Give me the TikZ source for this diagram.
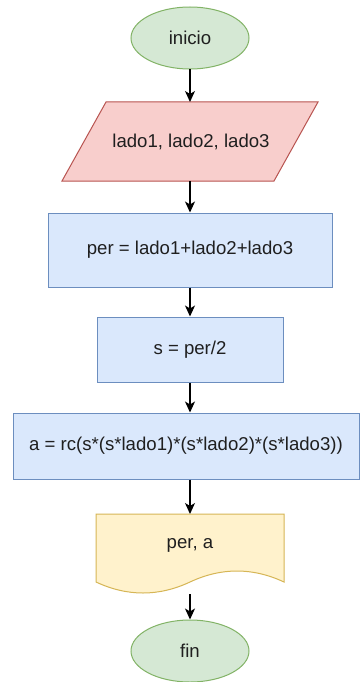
\documentclass[tikz,border=0pt]{standalone}
\usepackage{fontspec}
\setmainfont{Liberation Sans}
\usetikzlibrary{arrows.meta,shapes.geometric}
\definecolor{greenfill}{HTML}{D5E8D4}
\definecolor{greenline}{HTML}{82B366}
\definecolor{redfill}{HTML}{F8CECC}
\definecolor{redline}{HTML}{B85450}
\definecolor{bluefill}{HTML}{DAE8FC}
\definecolor{blueline}{HTML}{6C8EBF}
\definecolor{yellowfill}{HTML}{FFF2CC}
\definecolor{yellowline}{HTML}{D6B656}
\begin{document}
\begin{tikzpicture}[x=1pt,y=-1pt,
  every node/.style={font=\fontsize{18.6}{21}\selectfont, text=black!88},
  terminal/.style={ellipse, draw=greenline, fill=greenfill, line width=1pt,
    minimum width=118pt, minimum height=62pt, inner sep=0pt},
  procbox/.style={rectangle, draw=blueline, fill=bluefill, line width=1pt, inner sep=0pt},
  flow/.style={-{Stealth[length=11pt,width=10pt,inset=3pt]}, line width=1.3pt, black}
]
\useasboundingbox (0,0) rectangle (362,682);
\clip (0,0) rectangle (362,682);
\fill[white] (0,0) rectangle (362,682);

% start
\node[terminal] (inicio) at (190,38) {inicio};

% input (parallelogram)
\draw[draw=redline, fill=redfill, line width=1pt]
  (106,102) -- (318,102) -- (274,181) -- (62,181) -- cycle;
\node (entrada) at (191,142) {lado1, lado2, lado3};
\coordinate (inTop) at (190,102);
\coordinate (inBot) at (190,181);

% processes
\node[procbox, minimum width=284pt, minimum height=74pt] (per) at (190,250) {per = lado1+lado2+lado3};
\node[procbox, minimum width=186pt, minimum height=65pt] (semi) at (190,349.5) {s = per/2};
\node[procbox, minimum width=346pt, minimum height=66pt] (area) at (186,446) {a = rc(s*(s*lado1)*(s*lado2)*(s*lado3))};

% output (document)
\draw[draw=yellowline, fill=yellowfill, line width=1pt]
  (96,514) -- (284,514) -- (284,582)
  .. controls (252.67,567.33) and (221.33,567.33) .. (190,582)
  .. controls (158.67,596.67) and (127.33,596.67) .. (96,582) -- cycle;
\node (salida) at (190,545) {per, a};
\coordinate (outTop) at (190,514);
\coordinate (outBot) at (190,594);

% end
\node[terminal] (fin) at (190,651) {fin};

% connectors
\draw[flow] (inicio) -- (inTop);
\draw[flow] (inBot) -- (per);
\draw[flow] (per) -- (semi);
\draw[flow] (semi) -- (area.north -| semi);
\draw[flow] (area.south -| semi) -- (outTop);
\draw[flow] (outBot) -- (fin);
\end{tikzpicture}
\end{document}
